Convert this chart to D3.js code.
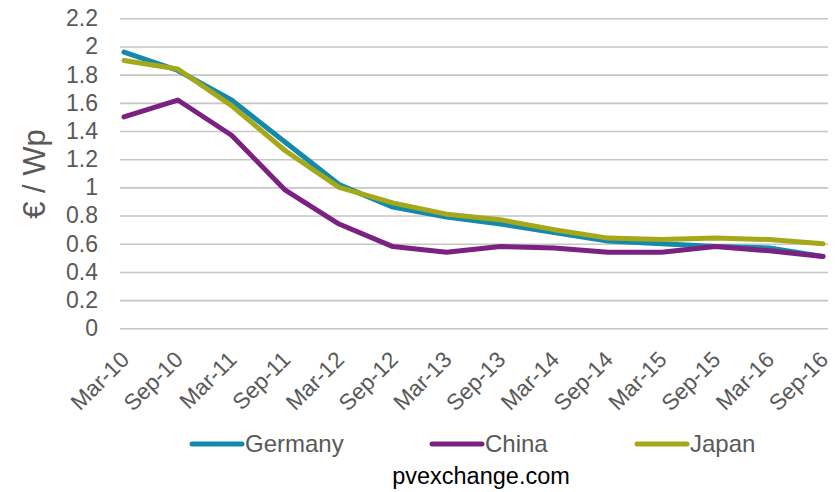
<!DOCTYPE html>
<html>
<head>
<meta charset="utf-8">
<script src="https://cdn.jsdelivr.net/npm/d3@7"></script>
<style>
  body { margin: 0; background: #fff; }
  text { font-family: "Liberation Sans", Arial, sans-serif; }
</style>
</head>
<body>
<div id="chart"></div>
<script>
// data
const categories = ["Mar-10", "Sep-10", "Mar-11", "Sep-11", "Mar-12", "Sep-12", "Mar-13",
  "Sep-13", "Mar-14", "Sep-14", "Mar-15", "Sep-15", "Mar-16", "Sep-16"];
const germany = [1.96, 1.83, 1.62, 1.32, 1.02, 0.86, 0.79, 0.74, 0.68, 0.62, 0.60, 0.58, 0.57, 0.51];
const china   = [1.50, 1.62, 1.37, 0.98, 0.74, 0.58, 0.54, 0.58, 0.57, 0.54, 0.54, 0.58, 0.55, 0.51];
const japan   = [1.90, 1.84, 1.58, 1.26, 1.00, 0.89, 0.81, 0.77, 0.70, 0.64, 0.63, 0.64, 0.63, 0.60];
const seriesNames = ["Germany", "China", "Japan"];
const yTicks = [0, 0.2, 0.4, 0.6, 0.8, 1, 1.2, 1.4, 1.6, 1.8, 2, 2.2];

const series = [germany, china, japan];
const colors = ["#1389ac", "#7b2181", "#a5a818"];

const W = 838, H = 492;
const gridLeft = 120, gridRight = 828;

const svg = d3.select("#chart")
  .append("svg")
    .attr("width", W)
    .attr("height", H);

const x = d3.scalePoint()
  .domain(categories)
  .range([124, 823]);

const y = d3.scaleLinear()
  .domain([0, 2.2])
  .range([328.3, 18.3]);

// y axis + gridlines
const yAxis = svg.append("g")
  .attr("transform", `translate(${gridLeft},0)`)
  .call(d3.axisLeft(y)
    .tickValues(yTicks)
    .tickSize(-(gridRight - gridLeft))
    .tickPadding(22)
    .tickFormat(d3.format("~g")));
yAxis.select(".domain").remove();
yAxis.selectAll("line")
  .attr("stroke", "#c6c6c6")
  .attr("stroke-width", 1.6);
yAxis.selectAll("text")
  .attr("fill", "#595959")
  .style("font-size", "23px");

// x axis labels
const xAxis = svg.append("g")
  .attr("transform", `translate(0,328)`)
  .call(d3.axisBottom(x).tickSize(0));
xAxis.select(".domain").remove();
xAxis.selectAll("text")
  .attr("x", 0)
  .attr("y", 0)
  .attr("dy", 0)
  .attr("transform", "translate(6,33) rotate(-45)")
  .attr("text-anchor", "end")
  .attr("fill", "#595959")
  .style("font-size", "22.5px");

// y title
svg.append("text")
  .attr("transform", "rotate(-90)")
  .attr("x", -174)
  .attr("y", 45)
  .attr("text-anchor", "middle")
  .attr("fill", "#595959")
  .style("font-size", "31px")
  .text("€ / Wp");

// lines
const line = d3.line()
  .x((d, i) => x(categories[i]))
  .y(d => y(d));

svg.selectAll(".series")
  .data(series)
  .enter()
  .append("path")
    .attr("class", "series")
    .attr("fill", "none")
    .attr("stroke", (d, i) => colors[i])
    .attr("stroke-width", 5)
    .attr("stroke-linejoin", "round")
    .attr("stroke-linecap", "round")
    .attr("d", line);

// legend
const legendX = [190, 430, 635];
const legend = svg.selectAll(".legend")
  .data(seriesNames)
  .enter()
  .append("g")
    .attr("class", "legend")
    .attr("transform", (d, i) => `translate(${legendX[i]},444)`);

legend.append("line")
  .attr("x1", 2)
  .attr("x2", 52)
  .attr("stroke", (d, i) => colors[i])
  .attr("stroke-width", 5)
  .attr("stroke-linecap", "round");

legend.append("text")
  .attr("x", 55)
  .attr("y", 8)
  .attr("fill", "#595959")
  .style("font-size", "24px")
  .text(d => d);

// source
svg.append("text")
  .attr("x", 481)
  .attr("y", 484)
  .attr("text-anchor", "middle")
  .attr("fill", "#000")
  .style("font-size", "23.5px")
  .text("pvexchange.com");
</script>
</body>
</html>
